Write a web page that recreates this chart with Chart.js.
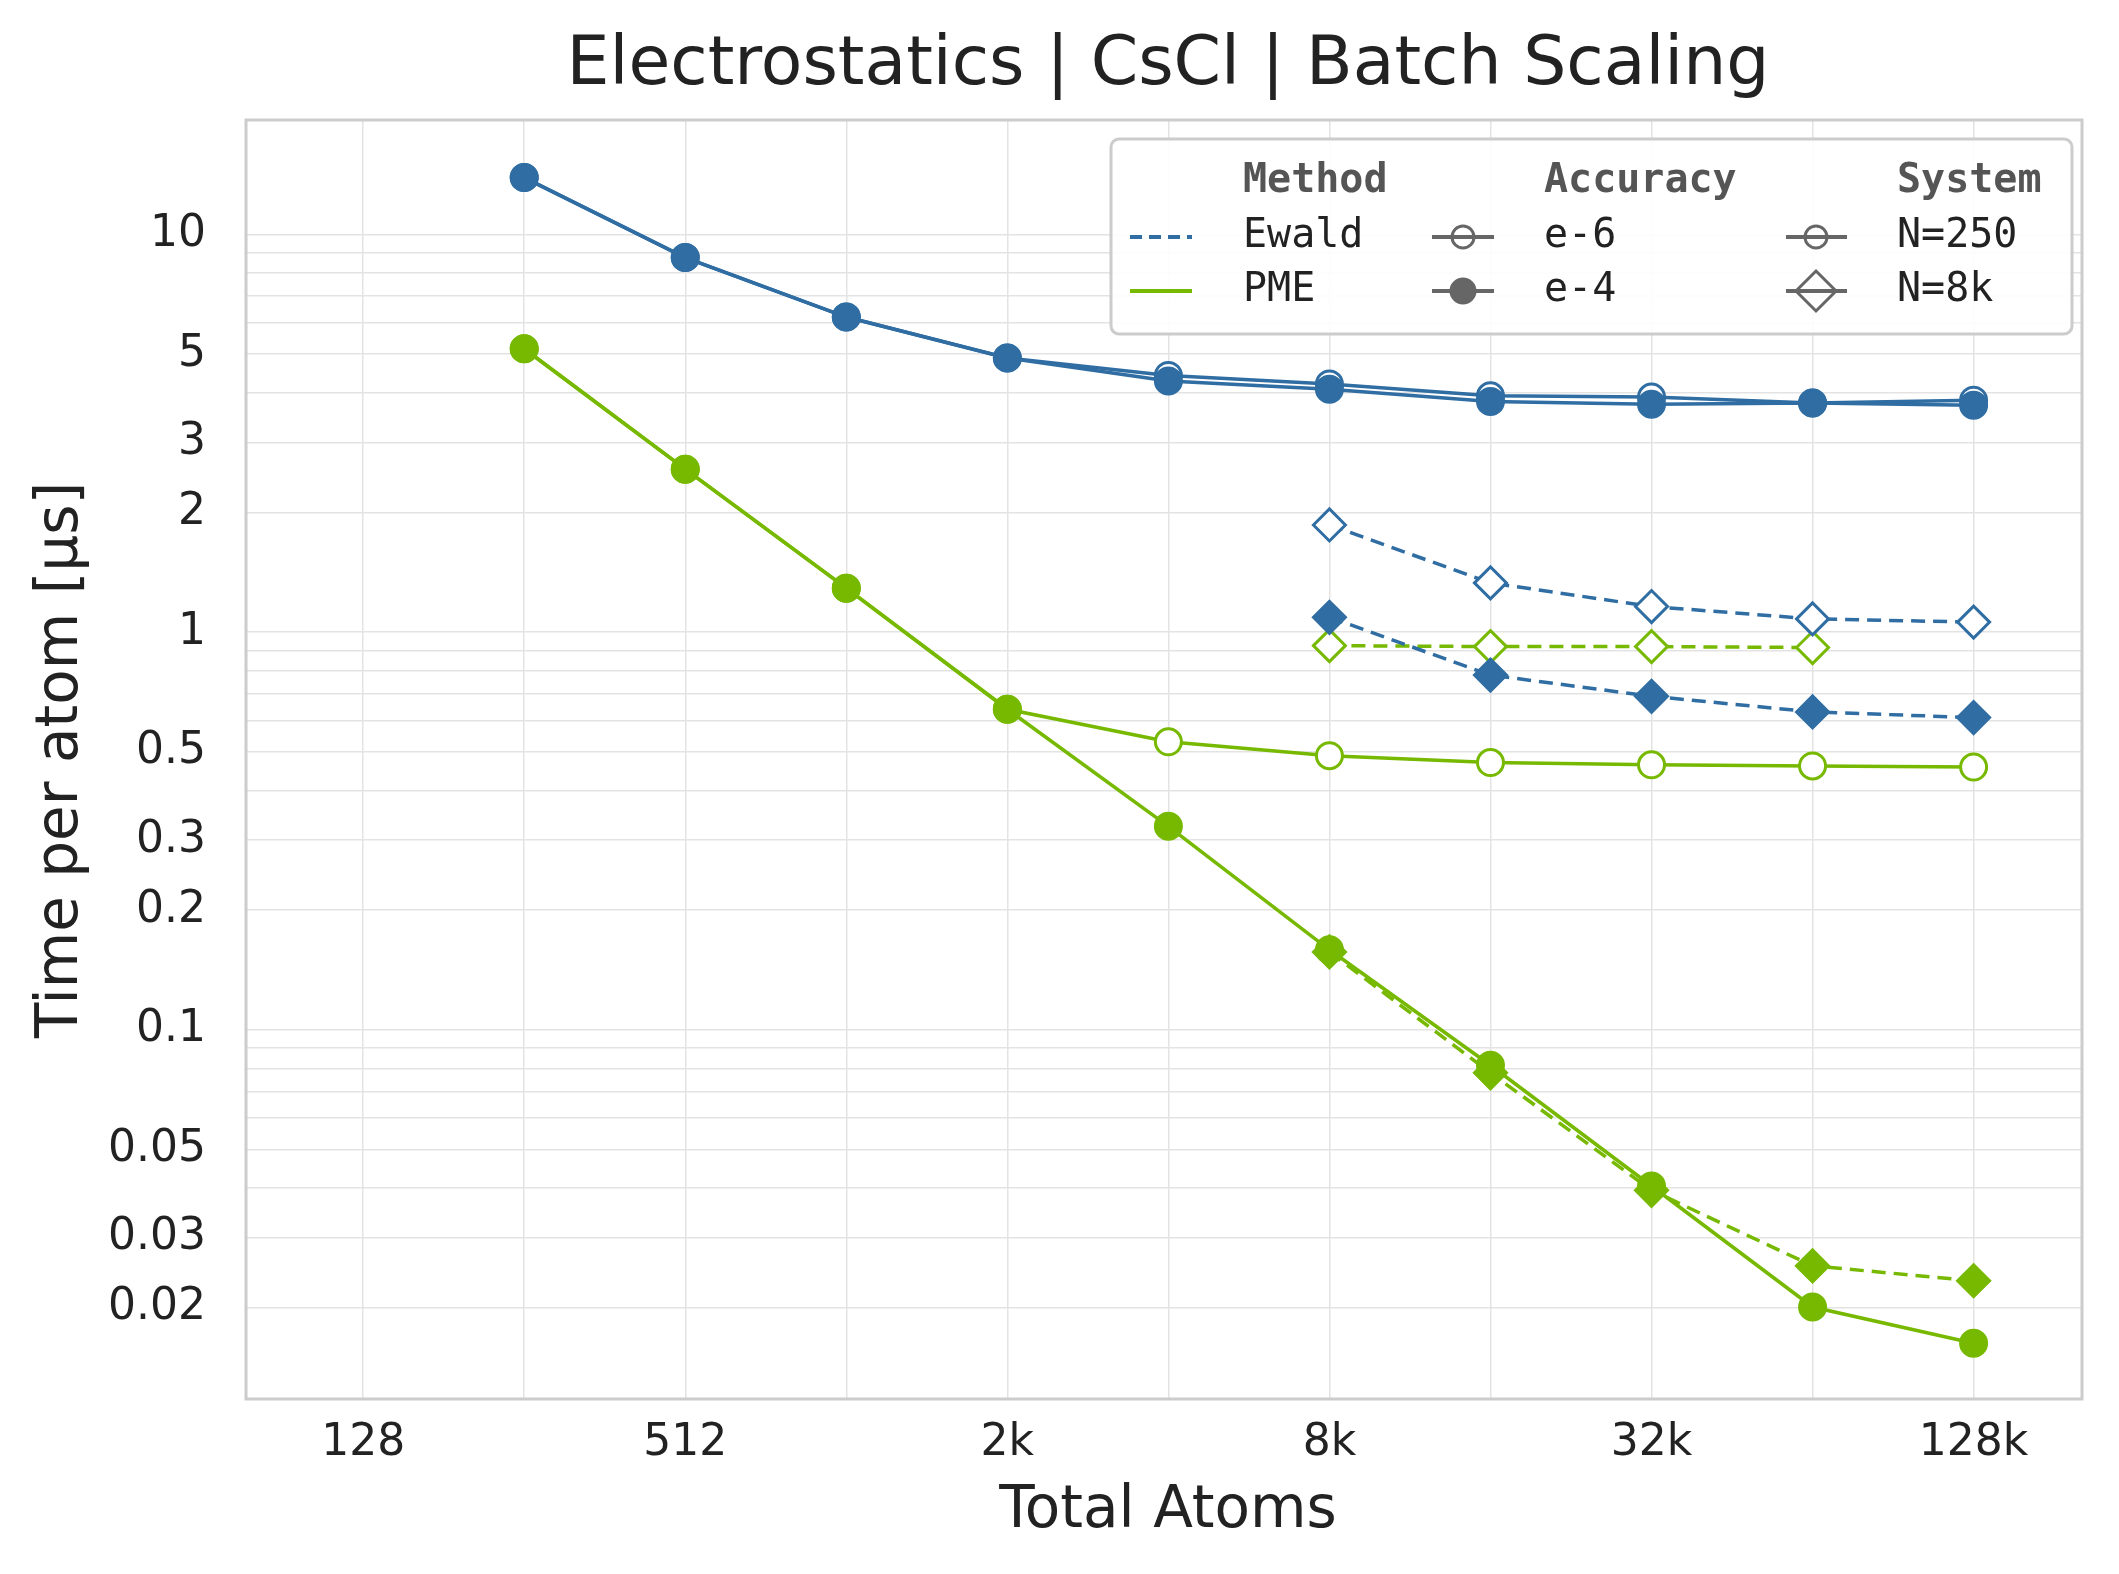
<!DOCTYPE html>
<html><head><meta charset="utf-8">
<script src="https://cdn.jsdelivr.net/npm/chart.js@4"></script>
<style>html,body{margin:0;padding:0;background:#fff}canvas{display:block}</style>
</head><body>
<canvas id="c" width="2119" height="1574"></canvas>
<script>
const atoms = [256, 512, 1024, 2048, 4096, 8192, 16384, 32768, 65536, 131072];
const atoms8k = [8192, 16384, 32768, 65536, 131072];
const ewald250_e6 = [13.9, 8.75, 6.2, 4.89, 4.42, 4.21, 3.93, 3.90, 3.77, 3.83];
const ewald250_e4 = [13.9, 8.75, 6.2, 4.89, 4.28, 4.08, 3.80, 3.74, 3.77, 3.72];
const ewald8k_e6 = [1.86, 1.33, 1.16, 1.08, 1.06];
const ewald8k_e4 = [1.09, 0.78, 0.69, 0.63, 0.61];
const pme250_e6 = [5.16, 2.57, 1.29, 0.64, 0.53, 0.489, 0.47, 0.464, 0.461, 0.458];
const pme250_e4 = [5.16, 2.57, 1.29, 0.64, 0.325, 0.159, 0.0815, 0.0405, 0.0201, 0.0163];
const pme8k_e6 = [0.925, 0.92, 0.92, 0.915];
const pme8k_e4 = [0.157, 0.078, 0.0395, 0.0255, 0.0234];
const xTickLabels = {128:'128', 512:'512', 2048:'2k', 8192:'8k', 32768:'32k', 131072:'128k'};
const yTickLabels = [10, 5, 3, 2, 1, 0.5, 0.3, 0.2, 0.1, 0.05, 0.03, 0.02];

const BLUE = '#2f6da3', GREEN = '#76b900';
function pts(xs, ys){ return ys.map((v,i)=>({x:xs[i], y:v})); }
function ds(xs, ys, color, filled, diamond, dashed){
  return {data: pts(xs, ys), borderColor: color, borderWidth: dashed ? 3.5 : 3.5,
    borderDash: dashed ? [14, 8] : [], pointStyle: diamond ? 'rectRot' : 'circle',
    pointRadius: diamond ? 16 : 13, pointBorderWidth: 3,
    pointBorderColor: color, pointBackgroundColor: filled ? color : '#ffffff', tension: 0};
}
// index 0 is drawn on top
const datasets = [
  ds(atoms, ewald250_e4, BLUE, true, false, false),
  ds(atoms8k, ewald8k_e4, BLUE, true, true, true),
  ds(atoms, pme250_e4, GREEN, true, false, false),
  ds(atoms8k, pme8k_e4, GREEN, true, true, true),
  ds(atoms, ewald250_e6, BLUE, false, false, false),
  ds(atoms8k, ewald8k_e6, BLUE, false, true, true),
  ds(atoms, pme250_e6, GREEN, false, false, false),
  ds(atoms8k.slice(0,4), pme8k_e6, GREEN, false, true, true),
];

const decor = {
  id: 'decor',
  afterDraw(chart){
    const c = chart.ctx, a = chart.chartArea;
    c.save();
    c.strokeStyle = '#cccccc'; c.lineWidth = 3;
    c.strokeRect(a.left, a.top, a.right - a.left, a.bottom - a.top);
    c.fillStyle = '#222'; c.textAlign = 'center'; c.textBaseline = 'middle';
    c.font = '68px "DejaVu Sans"';
    c.fillText('Electrostatics | CsCl | Batch Scaling', 1168, 66);
    c.font = '58px "DejaVu Sans"';
    c.fillText('Total Atoms', 1168, 1512);
    c.save(); c.translate(62, 760); c.rotate(-Math.PI/2);
    c.fillText('Time per atom [µs]', 0, 0); c.restore();
    // legend
    const lx = 1111, ly = 139, lw = 961, lh = 195, r = 8;
    c.beginPath();
    c.moveTo(lx+r, ly); c.arcTo(lx+lw, ly, lx+lw, ly+lh, r); c.arcTo(lx+lw, ly+lh, lx, ly+lh, r);
    c.arcTo(lx, ly+lh, lx, ly, r); c.arcTo(lx, ly, lx+lw, ly, r); c.closePath();
    c.fillStyle = 'rgba(255,255,255,0.9)'; c.fill();
    c.strokeStyle = '#cccccc'; c.lineWidth = 3; c.stroke();
    c.textAlign = 'left';
    c.font = 'bold 40px "DejaVu Sans Mono"'; c.fillStyle = '#555';
    c.fillText('Method', 1243, 182); c.fillText('Accuracy', 1544, 182); c.fillText('System', 1897, 182);
    c.font = '40px "DejaVu Sans Mono"'; c.fillStyle = '#222';
    const r1 = 237, r2 = 291;
    c.fillText('Ewald', 1243, r1); c.fillText('PME', 1243, r2);
    c.fillText('e-6', 1544, r1); c.fillText('e-4', 1544, r2);
    c.fillText('N=250', 1897, r1); c.fillText('N=8k', 1897, r2);
    c.lineWidth = 4;
    c.strokeStyle = BLUE; c.setLineDash([12,7]);
    c.beginPath(); c.moveTo(1130, r1); c.lineTo(1192, r1); c.stroke();
    c.setLineDash([]); c.strokeStyle = GREEN;
    c.beginPath(); c.moveTo(1130, r2); c.lineTo(1192, r2); c.stroke();
    c.strokeStyle = '#666'; c.fillStyle = '#666';
    [[1432,1494,r1],[1432,1494,r2],[1786,1847,r1],[1786,1847,r2]].forEach(([a1,b1,y])=>{
      c.beginPath(); c.moveTo(a1,y); c.lineTo(b1,y); c.stroke();
    });
    c.lineWidth = 3;
    c.beginPath(); c.arc(1463, r1, 11, 0, 2*Math.PI); c.stroke();
    c.beginPath(); c.arc(1463, r2, 12, 0, 2*Math.PI); c.fillStyle='#666'; c.fill(); c.stroke();
    c.beginPath(); c.arc(1816, r1, 11, 0, 2*Math.PI); c.stroke();
    c.beginPath(); c.moveTo(1816, r2-20); c.lineTo(1836, r2); c.lineTo(1816, r2+20); c.lineTo(1796, r2); c.closePath();
    c.stroke();
    c.restore();
  }
};

const allY = [];
for (let e = -2; e <= 1; e++) for (let m = 1; m <= 9; m++) allY.push(+(m * Math.pow(10, e)).toPrecision(3));

new Chart(document.getElementById('c'), {
  type: 'line',
  data: {datasets},
  plugins: [decor],
  options: {
    responsive: false, devicePixelRatio: 1, animation: false,
    layout: {padding: {top: 120, right: 37, left: 0, bottom: 0}},
    plugins: {legend: {display: false}, title: {display: false}, tooltip: {enabled: false}},
    scales: {
      x: {type: 'logarithmic', min: 77.3, max: 209000,
        afterBuildTicks(s){ const t=[]; for (let v=128; v<=131072; v*=2) t.push({value:v}); s.ticks = t; },
        afterFit(s){ s.height = 175; },
        ticks: {autoSkip: false, maxRotation: 0, padding: 18, color: '#222', font: {size: 44, family: 'DejaVu Sans'},
          callback: (v) => xTickLabels[v] || ''},
        grid: {color: '#e3e3e3', lineWidth: 1.5, drawTicks: false},
        border: {display: false}
      },
      y: {type: 'logarithmic', min: 0.0118, max: 19.4,
        afterBuildTicks(s){ s.ticks = allY.filter(v => v >= 0.0118 && v <= 19.4).map(v => ({value: v})); },
        afterFit(s){ s.width = 246; },
        ticks: {autoSkip: false, padding: 40, color: '#222', font: {size: 44, family: 'DejaVu Sans'},
          callback: (v) => yTickLabels.some(t => Math.abs(t - v) < 1e-9) ? String(v) : ''},
        grid: {color: '#e3e3e3', lineWidth: 1.5, drawTicks: false},
        border: {display: false}
      }
    }
  }
});
</script>
</body></html>
